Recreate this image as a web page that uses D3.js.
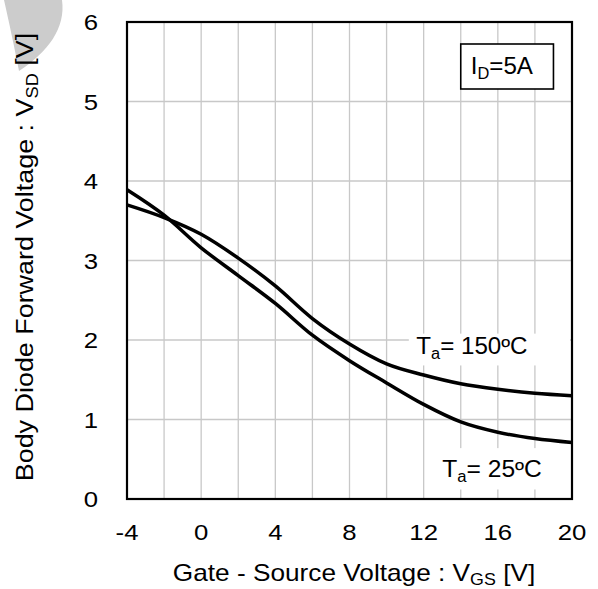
<!DOCTYPE html>
<html>
<head>
<meta charset="utf-8">
<title>Body diode forward voltage vs gate-source voltage</title>
<style>
  body { margin: 0; background: #fff; }
  svg text { font-family: "Liberation Sans", Arial, sans-serif; fill: #000; }
  .grid line { stroke: #c8c8c8; stroke-width: 1.3px; }
</style>
<script src="https://d3js.org/d3.v7.min.js"></script>
</head>
<body>
<script>
// gate-source voltage (x) and body diode forward voltage (y)
var vgs = [-4, -2, 0, 2, 4, 6, 8, 10, 12, 14, 16, 18, 20];
var vsd25 = [3.89, 3.57, 3.16, 2.81, 2.46, 2.06, 1.74, 1.46, 1.19, 0.97, 0.84, 0.76, 0.71];
var vsd150 = [3.70, 3.54, 3.33, 3.03, 2.68, 2.27, 1.95, 1.70, 1.56, 1.45, 1.38, 1.33, 1.30];
var xTicks = [-4, 0, 4, 8, 12, 16, 20];
var yTicks = [0, 1, 2, 3, 4, 5, 6];

var W = 598, H = 589;
var margin = {top: 22, right: 26, bottom: 90, left: 127};
var width = W - margin.left - margin.right,
    height = H - margin.top - margin.bottom;
var SX = 1.17; // the original font is drawn wider than Liberation Sans

var svg = d3.select("body").append("svg")
  .attr("width", W).attr("height", H);

// grey watermark fragment, top left
svg.append("path")
  .attr("d", "M4,0 L62,0 C66,28 48,52 19,71 C15,50 9,22 4,0 Z")
  .attr("fill", "#cccccc");

var g = svg.append("g")
  .attr("transform", "translate(" + margin.left + "," + margin.top + ")");

var x = d3.scaleLinear().domain([-4, 20]).range([0, width]);
var y = d3.scaleLinear().domain([0, 6]).range([height, 0]);

// grid
var grid = g.append("g").attr("class", "grid");
grid.selectAll(".vx").data(d3.range(-2, 20, 2)).enter().append("line")
  .attr("x1", function (d) { return x(d); }).attr("x2", function (d) { return x(d); })
  .attr("y1", 0).attr("y2", height);
grid.selectAll(".hy").data(d3.range(1, 6, 1)).enter().append("line")
  .attr("x1", 0).attr("x2", width)
  .attr("y1", function (d) { return y(d); }).attr("y2", function (d) { return y(d); });

// label backgrounds hide the grid
g.append("rect").attr("x", x(11.2)).attr("y", y(2.08)).attr("width", x(20) - x(11.2) - 2).attr("height", y(1.68) - y(2.08)).attr("fill", "#fff");
g.append("rect").attr("x", x(12.4)).attr("y", y(0.64)).attr("width", x(19.2) - x(12.4)).attr("height", y(0.12) - y(0.64)).attr("fill", "#fff");

// curves
var line = d3.line()
  .x(function (d) { return x(d[0]); })
  .y(function (d) { return y(d[1]); })
  .curve(d3.curveMonotoneX);

[vsd25, vsd150].forEach(function (s) {
  g.append("path")
    .datum(vgs.map(function (v, i) { return [v, s[i]]; }))
    .attr("d", line)
    .attr("fill", "none")
    .attr("stroke", "#000")
    .attr("stroke-width", 3.5);
});

// frame
g.append("rect").attr("width", width).attr("height", height)
  .attr("fill", "none").attr("stroke", "#000").attr("stroke-width", 2.2);

// text helper: placed at (px,py), stretched horizontally by sx, optional rotation
function label(parent, px, py, size, sx, parts, anchor, rot, subDy) {
  var dy = subDy || 5;
  var t = parent.append("text")
    .attr("transform", "translate(" + px + "," + py + ")" + (rot ? " rotate(" + rot + ")" : "") + " scale(" + sx + ",1)")
    .attr("font-size", size).attr("text-anchor", anchor || "start");
  parts.forEach(function (p) {
    var ts = t.append("tspan").text(p[0]);
    if (p[1] === "sub") ts.attr("font-size", size * 0.68).attr("dy", dy);
    if (p[1] === "up") ts.attr("dy", -dy);
  });
  return t;
}

// tick labels
xTicks.forEach(function (d) {
  label(g, x(d), height + 41, 22, SX, [[String(d)]], "middle");
});
yTicks.forEach(function (d) {
  label(g, -29, y(d) + 8, 22, SX, [[String(d)]], "end");
});

// annotations
g.append("rect").attr("x", x(14)).attr("y", 22).attr("width", x(19) - x(14)).attr("height", 45)
  .attr("fill", "#fff").attr("stroke", "#000").attr("stroke-width", 1.6);
label(g, x(14) + 10, 52, 23, 1.05, [["I"], ["D", "sub"], ["=5A", "up"]]);

label(g, x(11.6), y(1.83), 23, 1.05, [["T"], ["a", "sub"], ["= 150ºC", "up"]]);
label(g, x(13.0), y(0.28), 23, 1.07, [["T"], ["a", "sub"], ["= 25ºC", "up"]]);

// axis titles
label(svg, 354, 581, 23, 1.14,
  [["Gate - Source Voltage : V"], ["GS", "sub"], [" [V]", "up"]], "middle", 0, 4);
label(svg, 33, 257, 23, 1.17,
  [["Body Diode  Forward Voltage : V"], ["SD", "sub"], [" [V]", "up"]], "middle", -90);
</script>
</body>
</html>
